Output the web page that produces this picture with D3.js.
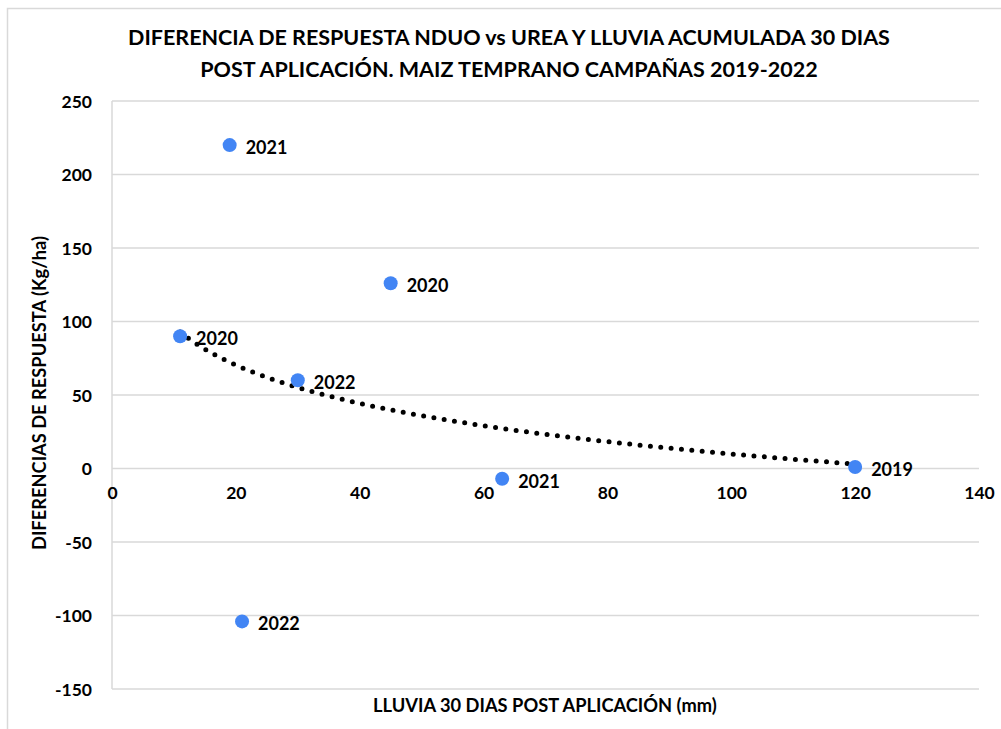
<!DOCTYPE html>
<html>
<head>
<meta charset="utf-8">
<script src="https://cdn.jsdelivr.net/npm/d3@7"></script>
<style>
  body { margin: 0; background: #fff; }
  svg text { font-family: Lato, "Open Sans", sans-serif; font-weight: bold; fill: #000; }
</style>
</head>
<body>
<div id="chart"></div>
<script>
// datos
const lluvia = [19, 45, 11, 30, 63, 120, 21];
const diferencia = [220, 126, 90, 60, -7, 1, -104];
const campanias = ["2021", "2020", "2020", "2022", "2021", "2019", "2022"];
// puntos usados por la línea de tendencia (logarítmica)
const tendLluvia = [11, 30, 120];
const tendDif = [90, 60, 1];

const xTicks = [0, 20, 40, 60, 80, 100, 120, 140];
const yTicks = [250, 200, 150, 100, 50, 0, -50, -100, -150];

const titulo = [
  "DIFERENCIA DE RESPUESTA NDUO vs UREA Y LLUVIA ACUMULADA 30 DIAS",
  "POST APLICACIÓN. MAIZ TEMPRANO CAMPAÑAS 2019-2022"
];
const tituloX = "LLUVIA 30 DIAS POST APLICACIÓN (mm)";
const tituloY = "DIFERENCIAS DE RESPUESTA (Kg/ha)";

const W = 1001, H = 729;
const margin = { top: 101, right: 22, bottom: 40, left: 112 };

const svg = d3.select("#chart").append("svg")
  .attr("width", W)
  .attr("height", H);

// borde del área del gráfico
svg.append("path")
  .attr("d", `M7.5,${H} V8.5 H${W}`)
  .attr("fill", "none")
  .attr("stroke", "#d9d9d9")
  .attr("stroke-width", 1.5);

const x = d3.scaleLinear().domain([0, 140]).range([margin.left, W - margin.right]);
const y = d3.scaleLinear().domain([-150, 250]).range([H - margin.bottom, margin.top]);

// líneas de cuadrícula horizontales
svg.append("g")
  .selectAll("line")
  .data(yTicks)
  .join("line")
    .attr("x1", x(0))
    .attr("x2", x(140))
    .attr("y1", d => y(d))
    .attr("y2", d => y(d))
    .attr("stroke", "#d9d9d9")
    .attr("stroke-width", 1.5);

// eje vertical
svg.append("line")
  .attr("x1", x(0)).attr("x2", x(0))
  .attr("y1", y(250)).attr("y2", y(-150))
  .attr("stroke", "#d9d9d9")
  .attr("stroke-width", 1.5);

// etiquetas eje Y (guion normal como en Excel)
const yAxis = d3.axisLeft(y).tickValues(yTicks).tickSize(0).tickPadding(20)
  .tickFormat(d => String(d));
const gy = svg.append("g").attr("transform", `translate(${x(0)},0)`).call(yAxis);
gy.select(".domain").remove();
gy.selectAll("text")
  .style("font-family", "Lato, sans-serif")
  .style("font-weight", "bold")
  .style("font-size", "17.5px")
  .attr("dy", "0.36em");

// etiquetas eje X (cruzan en y = 0)
const xAxis = d3.axisBottom(x).tickValues(xTicks).tickSize(0).tickPadding(18)
  .tickFormat(d => String(d));
const gx = svg.append("g").attr("transform", `translate(0,${y(0)})`).call(xAxis);
gx.select(".domain").remove();
gx.selectAll("text")
  .style("font-family", "Lato, sans-serif")
  .style("font-weight", "bold")
  .style("font-size", "17.5px");

// línea de tendencia logarítmica (mínimos cuadrados sobre ln x)
const lnX = tendLluvia.map(Math.log);
const mx = d3.mean(lnX), my = d3.mean(tendDif);
const b = d3.sum(lnX, (v, i) => (v - mx) * (tendDif[i] - my)) / d3.sum(lnX, v => (v - mx) ** 2);
const a = my - b * mx;
const [x0, x1] = d3.extent(tendLluvia);
const trendPts = d3.range(0, 101).map(i => {
  const xv = x0 + (x1 - x0) * i / 100;
  return [xv, a + b * Math.log(xv)];
});
svg.append("path")
  .datum(trendPts)
  .attr("d", d3.line().x(d => x(d[0])).y(d => y(d[1])))
  .attr("fill", "none")
  .attr("stroke", "#000")
  .attr("stroke-width", 5)
  .attr("stroke-linecap", "round")
  .attr("stroke-dasharray", "0 10.4");

// puntos
const pts = lluvia.map((v, i) => ({ x: v, y: diferencia[i], lab: campanias[i] }));
svg.append("g")
  .selectAll("circle")
  .data(pts)
  .join("circle")
    .attr("cx", d => x(d.x))
    .attr("cy", d => y(d.y))
    .attr("r", 7)
    .attr("fill", "#4285f4");

// etiquetas de datos
svg.append("g")
  .selectAll("text")
  .data(pts)
  .join("text")
    .attr("x", d => x(d.x) + 16)
    .attr("y", d => y(d.y) + 9)
    .style("font-size", "18px")
    .text(d => d.lab);

// título
svg.append("g")
  .selectAll("text")
  .data(titulo)
  .join("text")
    .attr("x", 509)
    .attr("y", (d, i) => 45 + i * 32)
    .attr("text-anchor", "middle")
    .style("font-size", "21.5px")
    .text(d => d);

// títulos de ejes
svg.append("text")
  .attr("x", 545)
  .attr("y", 712)
  .attr("text-anchor", "middle")
  .style("font-size", "18.3px")
  .text(tituloX);

svg.append("text")
  .attr("transform", "translate(46,393) rotate(-90)")
  .attr("text-anchor", "middle")
  .style("font-size", "18.3px")
  .text(tituloY);
</script>
</body>
</html>
